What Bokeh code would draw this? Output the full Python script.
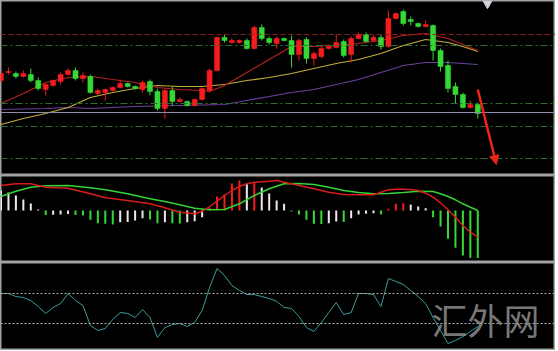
from bokeh.plotting import figure
from bokeh.layouts import column
from bokeh.models import Range1d, Span, Arrow, NormalHead, Label, ColumnDataSource
from bokeh.embed import file_html
from bokeh.resources import INLINE

# ---------------- data ----------------
open_ = [120, 128, 127, 124, 126, 120, 111, 115, 119, 126,
         130, 122, 124, 107, 108, 110, 113, 117, 114, 111,
         119, 109, 92, 110, 99, 99, 95, 101, 110, 130,
         163, 158, 158, 160, 152, 173, 162, 157, 162, 160,
         146, 161, 142, 144, 152, 153, 159, 146, 162, 166,
         160, 163, 154, 182, 189, 181, 177, 174, 175, 150,
         135, 114, 106, 93, 96]
close = [127, 129, 124, 127, 120, 112, 116, 120, 126, 130,
         122, 125, 108, 110, 111, 113, 117, 114, 112, 118,
         109, 92, 110, 99, 101, 95, 101, 112, 130, 163,
         160, 160, 160, 152, 173, 162, 158, 162, 160, 146,
         160, 142, 147, 152, 154, 158, 145, 162, 166, 159,
         163, 154, 182, 187, 177, 179, 174, 176, 150, 134,
         112, 106, 93, 96, 87]
high = [130, 133, 129, 130, 132, 123, 117, 121, 128, 132,
        133, 128, 126, 112, 112, 114, 121, 118, 115, 120,
        121, 112, 112, 114, 103, 100, 102, 113, 132, 164,
        166, 162, 161, 162, 175, 176, 164, 164, 163, 165,
        162, 163, 149, 154, 156, 166, 161, 164, 168, 168,
        165, 166, 190, 188, 191, 184, 178, 180, 176, 152,
        140, 118, 108, 100, 98]
low = [118, 126, 122, 123, 118, 110, 105, 114, 116, 125,
       120, 118, 107, 105, 100, 109, 112, 113, 111, 108,
       105, 90, 82, 95, 98, 94, 94, 100, 108, 129,
       158, 157, 157, 151, 151, 160, 156, 152, 159, 133,
       140, 137, 135, 142, 151, 152, 143, 138, 161, 158,
       159, 151, 153, 181, 175, 175, 173, 173, 140, 129,
       108, 97, 92, 92, 82]

# moving averages (sampled at candle indices)
ma_fast_idx = [0, 3, 6, 9, 12, 15, 18, 21, 24, 27, 28, 30, 33, 36, 39, 42, 45, 48, 51, 54, 57, 60, 62, 64]
ma_fast_val = [97, 107, 118, 123, 124, 121, 118, 113, 111, 110, 109, 115, 128, 141, 154, 154, 155, 157, 160, 165, 167, 162, 156, 150]
ma_mid_idx = [0, 3, 6, 9, 12, 15, 18, 21, 24, 27, 30, 33, 36, 39, 42, 45, 48, 51, 54, 57, 60, 62, 64]
ma_mid_val = [76, 82, 87, 93, 103, 108, 112, 115, 114, 114, 116, 120, 123, 127, 132, 137, 141, 147, 155, 161, 158, 154, 149]
ma_slow_idx = [0, 6, 9, 12, 18, 24, 30, 33, 36, 39, 42, 45, 48, 51, 54, 57, 60, 64]
ma_slow_val = [91, 92, 93, 92, 94, 95, 96, 100, 104, 108, 111, 116, 121, 128, 135, 138, 138, 136]

price_levels = [166, 155, 97, 88, 74, 42]

arrow_start = (64.0, 111)
arrow_end = (66.5, 36)
marker_top = (65.3, 197)

# MACD
macd_hist = [2.0, 1.8, 1.5, 1.1, 0.7, 0.1, -0.45, -0.42, -0.4, -0.35,
             -0.45, -0.5, -0.93, -1.27, -1.33, -1.4, -1.17, -1.15, -1.0, -0.77,
             -0.9, -1.27, -1.17, -1.27, -1.3, -1.17, -1.07, -0.67, 0.3, 1.4,
             1.6, 2.7, 3.0, 2.7, 2.8, 2.3, 1.7, 1.0, 0.67, -0.1,
             -0.4, -0.93, -1.33, -1.35, -1.27, -1.1, -1.15, -0.77, -0.4, -0.33,
             -0.27, -0.4, 0.17, 0.67, 0.73, 0.6, 0.4, 0.23, -0.67, -1.6,
             -2.83, -3.73, -4.5, -4.73, -4.75]
dif_idx = [0, 2, 4, 6, 9, 12, 14, 17, 20, 22, 24, 26, 27, 28, 29, 30, 31, 32, 33, 34, 36, 37, 38, 40, 42, 44, 46, 48, 50, 51, 52, 53, 54, 55, 56, 57, 58, 59, 60, 61, 62, 63, 64]
dif_val = [2.5, 2.67, 2.67, 2.33, 2.23, 1.67, 1.27, 1.0, 0.67, 0.27, -0.17, -0.33, -0.1, 0.4, 0.93, 1.5, 2.0, 2.4, 2.67, 2.83, 2.93, 3.0, 2.83, 2.5, 2.17, 1.83, 1.6, 1.57, 1.57, 1.83, 2.07, 2.13, 2.13, 2.1, 2.0, 1.73, 1.33, 0.77, 0.07, -0.67, -1.5, -2.17, -2.67]
dea_idx = [0, 2, 4, 6, 9, 12, 14, 17, 20, 22, 24, 26, 28, 30, 32, 34, 36, 37, 38, 40, 42, 44, 46, 48, 50, 52, 54, 56, 58, 59, 60, 61, 62, 63, 64]
dea_val = [1.4, 1.93, 2.33, 2.47, 2.5, 2.27, 2.07, 1.67, 1.17, 0.9, 0.57, 0.23, 0.07, 0.1, 0.67, 1.5, 2.17, 2.43, 2.67, 2.7, 2.6, 2.33, 2.0, 1.8, 1.67, 1.7, 1.8, 1.93, 1.9, 1.67, 1.4, 1.07, 0.67, 0.33, 0.0]

# oscillator
osc = [50, 50, 48, 47.3, 45.3, 41.3, 36.7, 40.7, 43.3, 50,
       45.3, 42, 28.7, 25.3, 26.7, 32.7, 37.3, 36.7, 34, 39.3,
       34, 20.7, 27.3, 29.3, 30, 28, 30.7, 38.7, 54, 66.7,
       62, 55.3, 52, 49.3, 49.3, 48, 46.7, 44.7, 40.7, 40,
       34.7, 27.3, 24.7, 30.7, 37.3, 44, 36, 37.3, 50, 50,
       49.3, 41.3, 60, 58, 56, 52, 48, 43.3, 34, 25.3,
       16.7, 18.7, 21.3, 24.7, 28]
osc_levels = [50, 30]

watermark = "汇外网"

# ---------------- styling ----------------
UP = "#f41c1c"
DOWN = "#35d935"
WHITE_BAR = "#efe6ea"
BG = "black"
EDGE = "#a2a2a2"
W = 555

n = len(open_)
xs = list(range(n))
x_range = Range1d(-0.067, 74.43)


def make_fig(h, y0, y1):
    f = figure(width=W, height=h, x_range=x_range, y_range=Range1d(y0, y1),
               output_backend="svg", toolbar_location=None,
               x_axis_type=None, y_axis_type=None,
               background_fill_color=BG, border_fill_color=BG,
               min_border=0, outline_line_color=EDGE, outline_line_width=2)
    f.grid.visible = False
    return f


# ---- panel 1: candles ----
p1 = make_fig(175, 25, 200)

lvl_styles = [("#8a1c1c", "5 3"), ("#2f6e2f", "7 3 2 3"), ("#2f6e2f", "7 3 2 3"),
              (None, None), ("#2f6e2f", "7 3 2 3"), ("#2f6e2f", "7 3 2 3")]
for lv, (col, dash) in zip(price_levels, lvl_styles):
    if col is None:
        p1.add_layout(Span(location=lv, dimension="width", line_color="#8c8cae", line_width=1))
    else:
        p1.add_layout(Span(location=lv, dimension="width", line_color=col, line_width=1, line_dash=dash))

p1.line(ma_slow_idx, ma_slow_val, line_color="#6c3fa0", line_width=1.2)
p1.line(ma_mid_idx, ma_mid_val, line_color="#c2ad3c", line_width=1.2)
p1.line(ma_fast_idx, ma_fast_val, line_color="#b52222", line_width=1.2)

colors = [UP if c >= o else DOWN for o, c in zip(open_, close)]
src = ColumnDataSource(dict(
    x=xs, high=high, low=low,
    top=[max(o, c) for o, c in zip(open_, close)],
    bottom=[min(o, c) for o, c in zip(open_, close)],
    color=colors))
p1.segment(x0="x", y0="low", x1="x", y1="high", color="color", line_width=1, source=src)
p1.vbar(x="x", width=0.68, top="top", bottom="bottom", fill_color="color",
        line_color="color", line_width=0.5, source=src)

p1.add_layout(Arrow(end=NormalHead(size=9, fill_color="#ee2418", line_color="#ee2418"),
                    x_start=arrow_start[0], y_start=arrow_start[1],
                    x_end=arrow_end[0], y_end=arrow_end[1],
                    line_color="#ee2418", line_width=2.5))
p1.scatter([marker_top[0]], [marker_top[1]], marker="inverted_triangle", size=9,
           fill_color="#cfd0d8", line_color="#cfd0d8")

# ---- panel 2: MACD ----
p2 = make_fig(87, -5.2, 3.5)
bar_colors = []
prev = None
for v in macd_hist:
    if prev is None:
        bar_colors.append(WHITE_BAR)
    elif v >= 0:
        bar_colors.append(UP if v > prev else WHITE_BAR)
    else:
        bar_colors.append(DOWN if v <= prev else WHITE_BAR)
    prev = v
p2.vbar(x=xs, width=0.27, top=[max(v, 0) for v in macd_hist],
        bottom=[min(v, 0) for v in macd_hist], fill_color=bar_colors, line_color=None)
p2.line(dea_idx, dea_val, line_color="#33d433", line_width=1.5)
p2.line(dif_idx, dif_val, line_color="#d81c1c", line_width=1.5)

# ---- panel 3: oscillator ----
p3 = make_fig(88, 12, 70.67)
for lv in osc_levels:
    p3.add_layout(Span(location=lv, dimension="width", line_color="#b4b4b4",
                       line_width=1, line_dash="2 2"))
p3.line(xs, osc, line_color="#3f9c9c", line_width=1)
p3.add_layout(Label(x=431, y=58, x_units="screen", y_units="screen", text=watermark,
                    text_font="Noto Sans CJK SC", text_font_size="36px",
                    text_font_style="normal", text_color="#8e8e8e", text_alpha=0.85,
                    text_baseline="top"))

layout = column(p1, p2, p3, spacing=0)
open("out.html", "w").write(file_html(layout, INLINE))
